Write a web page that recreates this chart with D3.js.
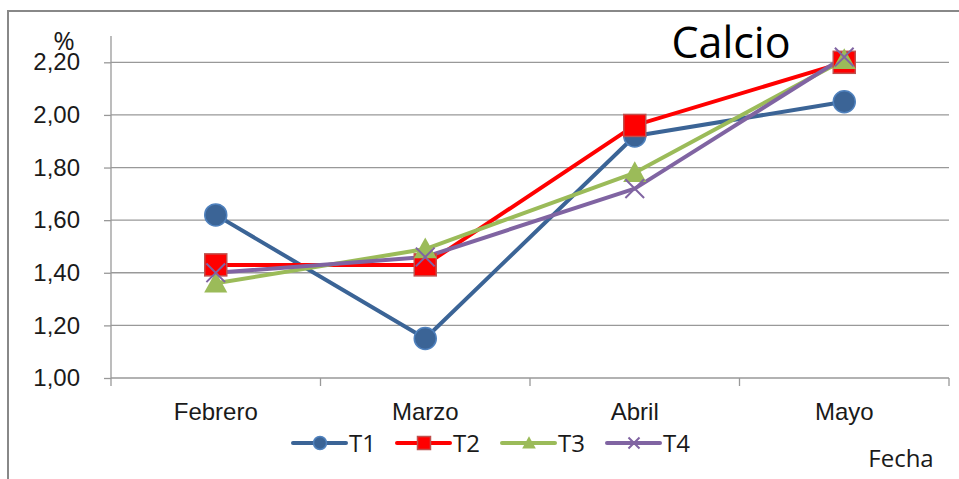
<!DOCTYPE html>
<html>
<head>
<meta charset="utf-8">
<script src="https://cdn.jsdelivr.net/npm/d3@7"></script>
<style>
  html, body { margin: 0; padding: 0; background: #fff; }
  svg { display: block; font-family: "Open Sans", "Noto Sans", sans-serif; }
</style>
</head>
<body>
<svg id="chart" width="959" height="479"></svg>
<script>
// Calcio (%) por tratamiento y mes
const months = ["Febrero", "Marzo", "Abril", "Mayo"];
const t1 = [1.62, 1.15, 1.92, 2.05];
const t2 = [1.43, 1.43, 1.96, 2.20];
const t3 = [1.36, 1.49, 1.78, 2.21];
const t4 = [1.40, 1.46, 1.72, 2.22];
const seriesNames = ["T1", "T2", "T3", "T4"];
const yTicks = [1.0, 1.2, 1.4, 1.6, 1.8, 2.0, 2.2];

const series = [
  { name: seriesNames[0], values: t1, color: "#3B6496", edge: "#4F81BD", shape: "circle" },
  { name: seriesNames[1], values: t2, color: "#FF0000", edge: "#C0504D", shape: "square" },
  { name: seriesNames[2], values: t3, color: "#9BBB59", edge: "#9BBB59", shape: "triangle" },
  { name: seriesNames[3], values: t4, color: "#8064A2", edge: "#8064A2", shape: "cross" }
];

const svg = d3.select("#chart");
const plot = { left: 111, right: 949, top: 36, bottom: 378 };
const labelSize = 24;
const textColor = "#1a1a1a";

// outer frame
svg.append("rect")
  .attr("x", 8).attr("y", 11).attr("width", 980).attr("height", 500)
  .attr("fill", "none").attr("stroke", "#888").attr("stroke-width", 2);

const x = d3.scaleBand().domain(months).range([plot.left, plot.right]);
const y = d3.scaleLinear().domain([1.0, 2.3]).range([plot.bottom, plot.top]);
const fmt = v => d3.format(".2f")(v).replace(".", ",");

// gridlines
svg.append("g").selectAll("line").data(yTicks.slice(1)).join("line")
  .attr("x1", plot.left).attr("x2", plot.right)
  .attr("y1", d => y(d)).attr("y2", d => y(d))
  .attr("stroke", "#999").attr("stroke-width", 1.3);

// y axis
const yAxis = svg.append("g").attr("transform", `translate(${plot.left},0)`)
  .call(d3.axisLeft(y).tickValues(yTicks).tickFormat(fmt).tickSize(7).tickPadding(24));
yAxis.select(".domain").attr("d", `M0,${plot.top}V${plot.bottom}`).attr("stroke", "#999").attr("stroke-width", 1.3);
yAxis.selectAll(".tick line").attr("stroke", "#999").attr("stroke-width", 1.3);
yAxis.selectAll(".tick text").attr("font-size", labelSize).attr("fill", textColor);

// x axis
const xAxis = svg.append("g").attr("transform", `translate(0,${plot.bottom})`)
  .call(d3.axisBottom(x).tickSize(0).tickPadding(25));
xAxis.select(".domain").attr("d", `M${plot.left},0H${plot.right}`).attr("stroke", "#999").attr("stroke-width", 1.3);
xAxis.selectAll(".tick text").attr("font-size", labelSize).attr("fill", textColor);
// category boundary ticks
const bounds = months.map(m => x(m)).concat([x(months[3]) + x.bandwidth()]);
svg.append("g").selectAll("line").data(bounds).join("line")
  .attr("x1", d => d).attr("x2", d => d)
  .attr("y1", plot.bottom).attr("y2", plot.bottom + 8)
  .attr("stroke", "#999").attr("stroke-width", 1.3);

// marker drawing
function marker(g, shape, color, edge, size) {
  if (shape === "circle") {
    g.append("circle").attr("r", size).attr("fill", color).attr("stroke", edge).attr("stroke-width", 1.5);
  } else if (shape === "square") {
    g.append("rect").attr("x", -size).attr("y", -size).attr("width", 2 * size).attr("height", 2 * size)
      .attr("fill", color).attr("stroke", edge).attr("stroke-width", 1.5);
  } else if (shape === "triangle") {
    const s = size * 1.05;
    g.append("path").attr("d", `M0,${-s}L${s},${s * 0.8}L${-s},${s * 0.8}Z`).attr("fill", color);
  } else {
    const s = size * 0.85;
    g.append("path").attr("d", `M${-s},${-s}L${s},${s}M${s},${-s}L${-s},${s}`)
      .attr("stroke", color).attr("stroke-width", 2).attr("fill", "none");
  }
}

const cx = m => x(m) + x.bandwidth() / 2;
const line = d3.line().x((d, i) => cx(months[i])).y(d => y(d));

series.forEach(s => {
  svg.append("path").datum(s.values).attr("d", line)
    .attr("fill", "none").attr("stroke", s.color).attr("stroke-width", 4).attr("stroke-linejoin", "round");
});
series.forEach(s => {
  s.values.forEach((v, i) => {
    const g = svg.append("g").attr("transform", `translate(${cx(months[i])},${y(v)})`);
    marker(g, s.shape, s.color, s.edge, 11);
  });
});

// legend
const legendX = [293, 397, 502, 607];
const legendY = 443;
series.forEach((s, i) => {
  const g = svg.append("g").attr("transform", `translate(${legendX[i]},${legendY})`);
  g.append("line").attr("x1", 0).attr("x2", 53).attr("y1", 0).attr("y2", 0)
    .attr("stroke", s.color).attr("stroke-width", 4).attr("stroke-linecap", "round");
  const m = g.append("g").attr("transform", "translate(27,0)");
  marker(m, s.shape, s.color, s.edge, 6.5);
  g.append("text").attr("x", 56).attr("y", 8.5).attr("font-size", labelSize).attr("fill", textColor).text(s.name);
});

// titles
svg.append("text").attr("x", 731).attr("y", 58).attr("text-anchor", "middle")
  .attr("font-size", 43).attr("fill", "#000").text("Calcio");
svg.append("text").attr("x", 64).attr("y", 50).attr("text-anchor", "middle")
  .attr("font-size", 26).attr("fill", textColor).text("%");
svg.append("text").attr("x", 901).attr("y", 467).attr("text-anchor", "middle")
  .attr("font-size", labelSize).attr("fill", textColor).text("Fecha");
</script>
</body>
</html>
